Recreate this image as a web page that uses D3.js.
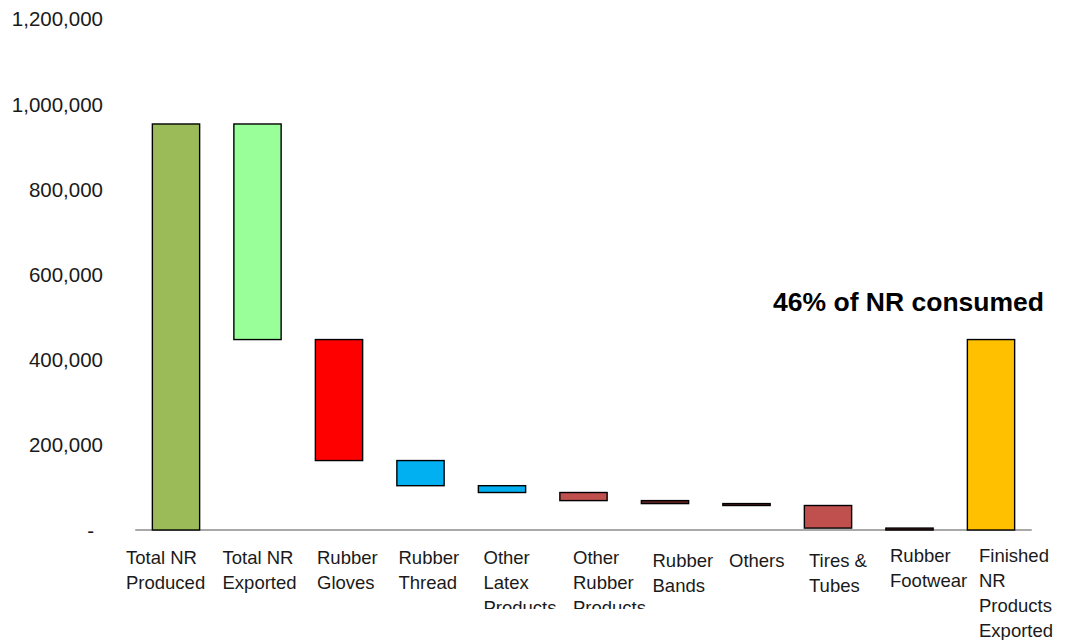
<!DOCTYPE html>
<html>
<head>
<meta charset="utf-8">
<script src="https://cdn.jsdelivr.net/npm/d3@7"></script>
<style>
  html, body { margin: 0; padding: 0; background: #fff; }
  svg { display: block; font-family: "Liberation Sans", Arial, sans-serif; }
</style>
</head>
<body>
<svg id="chart" width="1065" height="640"></svg>
<script>
// Natural rubber flow: total produced, exported raw, consumed by product group, finished goods exported
const categories = [
  "Total NR\nProduced",
  "Total NR\nExported",
  "Rubber\nGloves",
  "Rubber\nThread",
  "Other\nLatex\nProducts",
  "Other\nRubber\nProducts",
  "Rubber\nBands",
  "Others",
  "Tires &\nTubes",
  "Rubber\nFootwear",
  "Finished\nNR\nProducts\nExported"
];
// "total" bars start at zero, "step" bars hang from the running total
const kinds = ["total", "step", "step", "step", "step", "step", "step", "step", "step", "step", "total"];
const values = [953000, 506000, 284000, 59000, 16000, 19000, 7000, 4500, 53000, 4500, 447000];
const fills = ["#9BBB59", "#99FF99", "#FF0000", "#00B0F0", "#00B0F0", "#C0504D",
               "#632523", "#632523", "#C0504D", "#632523", "#FFC000"];
const yTicks = [0, 200000, 400000, 600000, 800000, 1000000, 1200000];
const annotation = "46% of NR consumed";

const svg = d3.select("#chart");

const x = d3.scaleBand()
  .domain(categories)
  .range([135.25, 1031.75])
  .paddingInner(0.42)
  .paddingOuter(0.21);

const y = d3.scaleLinear()
  .domain([0, 1200000])
  .range([530, 18.75]);

// Waterfall segments
let running = 0;
const segments = categories.map((c, i) => {
  let lo, hi;
  if (kinds[i] === "total") {
    lo = 0; hi = values[i]; running = values[i];
  } else {
    hi = running; lo = running - values[i]; running = lo;
  }
  return { cat: c, lo, hi, fill: fills[i] };
});

// Y axis (labels only)
const yAxis = d3.axisLeft(y)
  .tickValues(yTicks)
  .tickSize(0)
  .tickPadding(0)
  .tickFormat(d => d === 0 ? "-" : d3.format(",")(d));

const gy = svg.append("g")
  .attr("transform", "translate(103,0)")
  .call(yAxis);
gy.select(".domain").remove();
gy.selectAll("text")
  .attr("font-family", "'Liberation Sans', Arial, sans-serif")
  .attr("font-size", "20.5px")
  .attr("fill", "#1a1a1a")
  .attr("dy", "0.35em")
  .attr("dx", d => d === 0 ? -9 : 0);

// Baseline
svg.append("line")
  .attr("x1", x.range()[0])
  .attr("x2", x.range()[1])
  .attr("y1", y(0))
  .attr("y2", y(0))
  .attr("stroke", "#8c8c8c")
  .attr("stroke-width", 1.6);

// Bars
svg.append("g")
  .selectAll("rect")
  .data(segments)
  .join("rect")
  .attr("x", d => x(d.cat))
  .attr("width", x.bandwidth())
  .attr("y", d => y(d.hi))
  .attr("height", d => Math.max(0.5, y(d.lo) - y(d.hi)))
  .attr("fill", d => d.fill)
  .attr("stroke", "#000")
  .attr("stroke-width", 1.4);

// Category labels, wrapped over several lines
const labelShiftX = [-50, -35, -22, -22, -18.5, -10.5, -12.5, -17.5, -19, -19.5, -12];
const labelShiftY = [0, 0, 0, 0, 0, 0, 3, 3, 3, -2, -2];
const clipped = new Set([4, 5]);

svg.append("defs").append("clipPath")
  .attr("id", "labelClip")
  .append("rect")
  .attr("x", 0).attr("y", 535).attr("width", 1065).attr("height", 74);

const gx = svg.append("g");
categories.forEach((c, i) => {
  const cx = x(c) + x.bandwidth() / 2;
  const t = gx.append("text")
    .attr("font-size", "18.5px")
    .attr("fill", "#1a1a1a")
    .attr("text-anchor", "start");
  if (clipped.has(i)) t.attr("clip-path", "url(#labelClip)");
  c.split("\n").forEach((line, k) => {
    t.append("tspan")
      .attr("x", cx + labelShiftX[i])
      .attr("y", 564 + labelShiftY[i] + k * 25)
      .text(line);
  });
});

// Annotation
svg.append("text")
  .attr("x", 1044)
  .attr("y", 311)
  .attr("text-anchor", "end")
  .attr("font-size", "26.5px")
  .attr("font-weight", "bold")
  .attr("fill", "#000")
  .text(annotation);
</script>
</body>
</html>
